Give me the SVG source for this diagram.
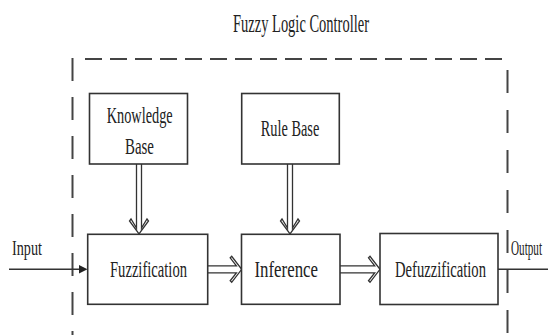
<svg xmlns="http://www.w3.org/2000/svg" width="548" height="335" viewBox="0 0 548 335">
<style>
.t{font-family:"Liberation Serif","Times New Roman",serif;fill:#222;}
.box{fill:#fff;stroke:#333;stroke-width:1.6;}
.dash{fill:none;stroke:#444;stroke-width:2;}
.arr{fill:#fff;stroke:#333;stroke-width:1.3;stroke-linejoin:miter;}
.ln{fill:none;stroke:#333;stroke-width:1.6;}
</style>
<rect width="548" height="335" fill="#fff"/>
<text class="t" x="233" y="32" font-size="25" textLength="136" lengthAdjust="spacingAndGlyphs">Fuzzy Logic Controller</text>
<g id="frame">
<line class="dash" x1="85" y1="59" x2="506" y2="59" stroke-dasharray="17 8"/>
<line class="dash" x1="72.5" y1="58" x2="72.5" y2="335" stroke-dasharray="23 16"/>
<line class="dash" x1="507.5" y1="70" x2="507.5" y2="335" stroke-dasharray="23 17"/>
</g>
<g id="connectors">
<line class="ln" x1="9" y1="269.3" x2="80" y2="269.3"/>
<polygon points="79,265 87.5,269.3 79,273.6" fill="#222"/>
<line class="ln" x1="498" y1="269.3" x2="548" y2="269.3"/>
<polyline class="arr" points="136.5,164 136.5,228 131,219 129.5,221 139,234 148.5,221 147,219 141.5,228 141.5,164"/>
<polyline class="arr" points="287.5,164 287.5,228 282,219 280.5,221 290,234 299.5,221 298,219 292.5,228 292.5,164"/>
<polyline class="arr" points="208,265.8 236.4,265.8 230.2,257.8 231.7,256.3 241.7,269.3 231.7,282.3 230.2,280.8 236.4,272.8 208,272.8"/>
<polyline class="arr" points="340,265.8 374.7,265.8 368.5,257.8 370,256.3 380,269.3 370,282.3 368.5,280.8 374.7,272.8 340,272.8"/>
</g>
<g id="knowledge-base">
<rect class="box" x="89.5" y="93.5" width="98" height="70.5"/>
<text class="t" x="106.7" y="123" font-size="23" textLength="66" lengthAdjust="spacingAndGlyphs">Knowledge</text>
<text class="t" x="125" y="154" font-size="23" textLength="29" lengthAdjust="spacingAndGlyphs">Base</text>
</g>
<g id="rule-base">
<rect class="box" x="241.7" y="93.5" width="97.6" height="70.5"/>
<text class="t" x="260.7" y="136" font-size="23" textLength="58.6" lengthAdjust="spacingAndGlyphs">Rule Base</text>
</g>
<g id="fuzzification">
<rect class="box" x="87.7" y="234.3" width="120" height="70"/>
<text class="t" x="110" y="277" font-size="23" textLength="77" lengthAdjust="spacingAndGlyphs">Fuzzification</text>
</g>
<g id="inference">
<rect class="box" x="241.5" y="234.3" width="98.5" height="70"/>
<text class="t" x="254.5" y="277" font-size="23" textLength="63.5" lengthAdjust="spacingAndGlyphs">Inference</text>
</g>
<g id="defuzzification">
<rect class="box" x="380" y="233.5" width="118" height="71"/>
<text class="t" x="395" y="277" font-size="23" textLength="91" lengthAdjust="spacingAndGlyphs">Defuzzification</text>
</g>
<text class="t" x="12" y="255" font-size="22" textLength="30" lengthAdjust="spacingAndGlyphs">Input</text>
<text class="t" x="511" y="255" font-size="21" textLength="31" lengthAdjust="spacingAndGlyphs">Output</text>
</svg>
